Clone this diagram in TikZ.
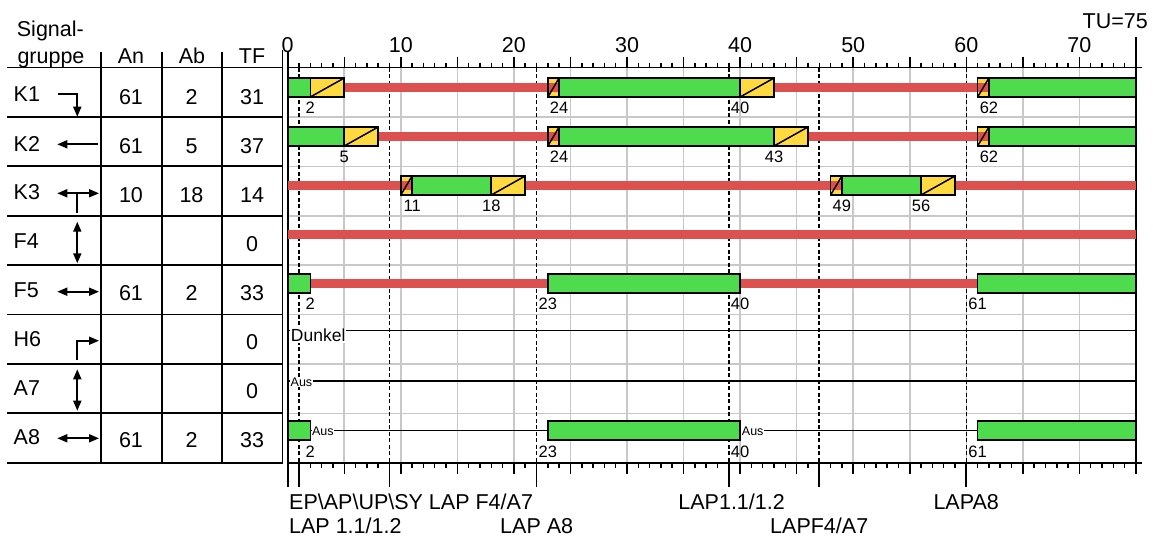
\documentclass[tikz,border=0pt]{standalone}
\usepackage{fontspec}
\setmainfont{Liberation Sans}
\usetikzlibrary{arrows.meta}
\definecolor{sgreen}{RGB}{78,220,78}
\definecolor{syellow}{RGB}{255,217,64}
\definecolor{sred}{RGB}{221,80,80}
\definecolor{sgrid}{RGB}{200,200,200}
\tikzset{
  big/.style={font=\fontsize{21.5}{25}\selectfont, inner sep=0pt},
  small/.style={font=\fontsize{16.5}{19}\selectfont, inner sep=0pt},
  tiny/.style={font=\fontsize{12.5}{14}\selectfont, inner sep=0.5pt, fill=white},
  tline/.style={line width=1.7pt},
  axl/.style={line width=2.2pt},
  gridl/.style={sgrid, line width=1.6pt},
  dl/.style={line width=1.6pt, dash pattern=on 4pt off 2.5pt},
  bord/.style={draw=black, line width=1.6pt},
  gbar/.style={fill=sgreen, draw=black, line width=1.6pt},
  ybar/.style={fill=syellow, draw=black, line width=1.6pt},
  rline/.style={sred, line width=9pt},
  thinl/.style={line width=1.5pt},
  arr/.style={line width=1.8pt, -{Triangle[length=10pt,width=8pt]}},
  darr/.style={line width=1.8pt, {Triangle[length=10pt,width=8pt]}-{Triangle[length=10pt,width=8pt]}},
}
\newcommand\GB[3]{\draw[gbar] (#1,#3) rectangle (#2,{#3+19});}
\newcommand\YB[3]{\draw[ybar] (#1,#3) rectangle (#2,{#3+19}); \draw[thinl] (#1,{#3+19}) -- (#2,#3);}
\newcommand\RL[3]{\draw[rline] (#1,{#3+9.5}) -- (#2,{#3+9.5});}
\newcommand\RY[2]{%
  \fill[syellow] (#1,#2) rectangle ({#1+1},{#2+19});
  \draw[rline] (#1,{#2+9.5}) -- ({#1+1},{#2+9.5});
  \draw[bord] (#1,#2) rectangle ({#1+1},{#2+19});
  \draw[thinl] (#1,{#2+19}) -- ({#1+1},#2);}
\begin{document}
\begin{tikzpicture}[x=1pt,y=-1pt]
\useasboundingbox (0,0) rectangle (1153,541);

% ---------------- table ----------------
\foreach \yy in {67.5,116.9,166.3,215.7,265.1,314.5,363.9,413.3,462.7}
  \draw[tline] (7,\yy) -- (282.5,\yy);
\foreach \xx in {101,162,222} \draw[tline] (\xx,52) -- (\xx,462.7);
\draw[tline] (282.5,50) -- (282.5,462.7);

\node[big,anchor=base west] (h1) at (16.7,36.7) {Signal-};
\node[big,anchor=base west] (h2) at (17.3,63.5) {gruppe};
\node[big,anchor=base] (h3) at (131,63.5) {An};
\node[big,anchor=base] (h4) at (192,63.5) {Ab};
\node[big,anchor=base] (h5) at (252,63.5) {TF};

\foreach \nm/\an/\ab/\tf [count=\i from 0] in
  {K1/61/2/31, K2/61/5/37, K3/10/18/14, F4///0, F5/61/2/33, H6///0, A7///0, A8/61/2/33}{
  \node[big,anchor=west] (nm\i) at (13.5,{94.5+49*\i}) {\nm};
  \node[big] (an\i) at (131,{97+49*\i}) {\an};
  \node[big] (ab\i) at (191.5,{97+49*\i}) {\ab};
  \node[big] (tf\i) at (252,{97+49*\i}) {\tf};
}

% icons
\draw[arr] (58.3,94.3) -- (77.3,94.3) -- (77.3,116.7);
\draw[arr] (97.7,144.3) -- (57.3,144.3);
\draw[darr] (57.3,193.3) -- (99,193.3);
\draw[line width=1.8pt] (77.3,193.3) -- (77.3,213.3);
\draw[darr] (77.3,221.7) -- (77.3,263.3);
\draw[darr] (57.3,291.7) -- (99,291.7);
\draw[arr] (76.7,360) -- (76.7,340.7) -- (99,340.7);
\draw[darr] (77.3,369.3) -- (77.3,410.7);
\draw[darr] (57.3,438.3) -- (99,438.3);

% ---------------- timeline ----------------
\begin{scope}[xshift=287.7pt, x=11.31pt]
  % grid
  \foreach \t in {5,10,...,70} \draw[gridl] (\t,67.5) -- (\t,462.7);
  \foreach \yy in {116.9,166.3,215.7,265.1,314.5,363.9,413.3}
    \draw[gridl] (0,\yy) -- (75,\yy);
  % dashed phase lines
  \foreach \t in {1,9,22,39,47,60}{
    \draw[dl] (\t,67.5) -- (\t,462.7);
    \draw[tline] (\t,462.7) -- (\t,486.7);
  }
  % axes
  \draw[tline] (0,67.5) -- (75.5,67.5);
  \draw[tline] (0,462.7) -- (75.5,462.7);
  \foreach \t in {1,...,74}{
    \draw[thinl] (\t,62.5) -- (\t,67.5);
    \draw[thinl] (\t,462.7) -- (\t,468.3);
  }
  \foreach \t in {5,10,...,70}{
    \draw[thinl] (\t,56.7) -- (\t,67.5);
    \draw[thinl] (\t,462.7) -- (\t,474);
  }
  \draw[axl] (0,52) -- (0,486.7);
  \draw[axl] (75,37) -- (75,474);
  \foreach \t in {0,10,...,70} \node[big,anchor=base] (ax\t) at (\t,52.3) {\t};

  % K1
  \RL{5}{23}{78} \RL{43}{61}{78}
  \GB{0}{2}{78} \YB{2}{5}{78} \RY{23}{78} \GB{24}{40}{78} \YB{40}{43}{78} \RY{61}{78} \GB{62}{75}{78}
  \foreach \t in {2,24,40,62} \node[small] (la\t) at (\t,107.5) {\t};
  % K2
  \RL{8}{23}{127} \RL{46}{61}{127}
  \GB{0}{5}{127} \YB{5}{8}{127} \RY{23}{127} \GB{24}{43}{127} \YB{43}{46}{127} \RY{61}{127} \GB{62}{75}{127}
  \foreach \t in {5,24,43,62} \node[small] (lb\t) at (\t,156.5) {\t};
  % K3
  \RL{0}{10}{176} \RL{21}{48}{176} \RL{59}{75}{176}
  \RY{10}{176} \GB{11}{18}{176} \YB{18}{21}{176} \RY{48}{176} \GB{49}{56}{176} \YB{56}{59}{176}
  \foreach \t in {11,18,49,56} \node[small] (lc\t) at (\t,205.5) {\t};
  % F4
  \RL{0}{75}{225}
  % F5
  \RL{2}{23}{274} \RL{40}{61}{274}
  \GB{0}{2}{274} \GB{23}{40}{274} \GB{61}{75}{274}
  \foreach \t in {2,23,40,61} \node[small] (ld\t) at (\t,303.5) {\t};
  % H6
  \draw[thinl] (0,330.7) -- (75,330.7);
  \node[font=\fontsize{17.5}{20}\selectfont, inner sep=0.8pt, fill=white, anchor=base west] (dunkel) at (0.2,341.7) {Dunkel};
  % A7
  \draw[thinl] (0,381) -- (75,381);
  \node[tiny, anchor=base west] (aus1) at (0.2,386) {Aus};
  % A8
  \draw[thinl] (2,430.7) -- (23,430.7);
  \draw[thinl] (40,430.7) -- (61,430.7);
  \GB{0}{2}{421} \GB{23}{40}{421} \GB{61}{75}{421}
  \node[tiny, anchor=base west] (aus2) at (2.1,435.5) {Aus};
  \node[tiny, anchor=base west] (aus3) at (40.1,435.5) {Aus};
  \foreach \t in {2,23,40,61} \node[small] (le\t) at (\t,451.5) {\t};
\end{scope}

\node[big,anchor=base east] (tu) at (1148,28.3) {TU=75};

% bottom labels
\node[big,anchor=base west] (b1) at (289,509.3) {EP\textbackslash AP\textbackslash UP\textbackslash SY LAP F4/A7};
\node[big,anchor=base west] (b2) at (289,533.5) {LAP 1.1/1.2};
\node[big,anchor=base west] (b3) at (500,533.5) {LAP A8};
\node[big,anchor=base east] (b4) at (785,509.3) {LAP1.1/1.2};
\node[big,anchor=base west] (b5) at (770,533.5) {LAPF4/A7};
\node[big,anchor=base west] (b6) at (933.3,509.3) {LAPA8};
\end{tikzpicture}
\end{document}
